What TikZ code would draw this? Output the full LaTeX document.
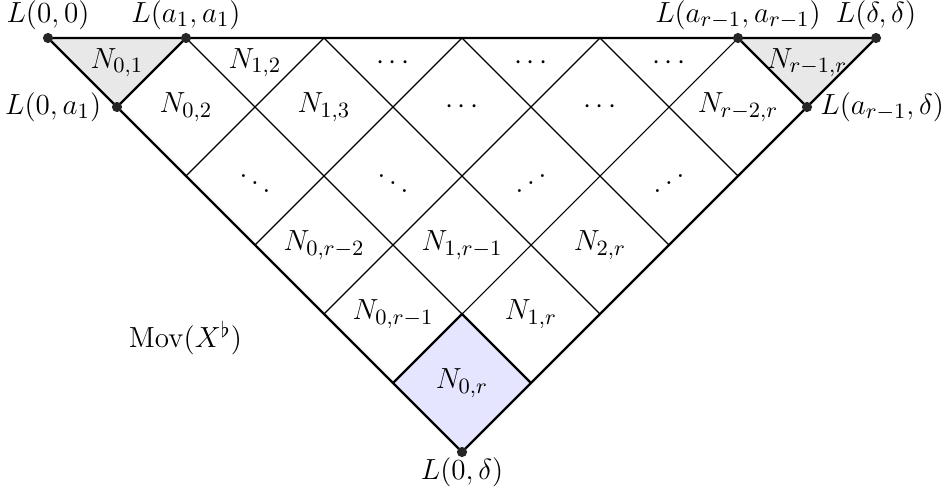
\documentclass[tikz,border=0pt]{standalone}
\usetikzlibrary{calc}
\newcommand{\myiddots}{\mathinner{\mkern1mu\raise1pt\hbox{.}\mkern2mu\raise4pt\hbox{.}\mkern2mu\raise7pt\vbox{\kern7pt\hbox{.}}\mkern1mu}}
\begin{document}
\begin{tikzpicture}[
  font=\fontsize{12.5}{15}\selectfont,
  thinline/.style={line width=0.45pt},
  boundary/.style={line width=0.9pt},
  dotnode/.style={circle,fill=black!85,inner sep=0pt,minimum size=4.2pt},
  lbl/.style={inner sep=1pt}
]
\useasboundingbox (-0.6957,0.5507) rectangle (13.0,-6.5217);
% fills
\fill[gray!18] (0,0) -- (2,0) -- (1,-1) -- cycle;
\fill[gray!18] (10,0) -- (12,0) -- (11,-1) -- cycle;
\fill[blue!10] (5,-5) -- (6,-4) -- (7,-5) -- (6,-6) -- cycle;
% grid lines
\foreach \k in {1,...,5}{
  \draw[thinline] (2*\k,0) -- ({6+\k},{\k-6});
  \draw[thinline] (2*\k,0) -- (\k,-\k);
}
% thick lines
\coordinate (T00) at (0,0);
\coordinate (Ta1) at (2,0);
\coordinate (Tar) at (10,0);
\coordinate (Tdd) at (12,0);
\coordinate (P0a) at (1,-1);
\coordinate (Pad) at (11,-1);
\coordinate (B0d) at (6,-6);
\coordinate (Btop) at (6,-4);
\coordinate (Bl) at (5,-5);
\coordinate (Br) at (7,-5);
\draw[boundary] (T00) -- (Tdd) -- (B0d) -- cycle;
\draw[boundary] (Ta1) -- (P0a);
\draw[boundary] (Tar) -- (Pad);
\draw[boundary] (Bl) -- (Btop) -- (Br);
% dots
\node[dotnode] (d1) at (T00) {};
\node[dotnode] (d2) at (Ta1) {};
\node[dotnode] (d3) at (Tar) {};
\node[dotnode] (d4) at (Tdd) {};
\node[dotnode] (d5) at (P0a) {};
\node[dotnode] (d6) at (Pad) {};
\node[dotnode] (d7) at (B0d) {};
% point labels
\node[above=0pt] (l1) at (T00) {$L(0,0)$};
\node[above=0pt] (l2) at (Ta1) {$L(a_1,a_1)$};
\node[above=0pt] (l3) at (Tar) {$L(a_{r-1},a_{r-1})$};
\node[above=0pt] (l4) at (Tdd) {$L(\delta,\delta)$};
\node[left=3pt] (l5) at (P0a) {$L(0,a_1)$};
\node[right=2pt] (l6) at (Pad) {$L(a_{r-1},\delta)$};
\node[below=0pt,inner sep=2pt] (l7) at (B0d) {$L(0,\delta)$};
% cell labels
\node[lbl] (n01) at (1,-0.36) {$N_{0,1}$};
\node[lbl] (n12) at (3,-0.36) {$N_{1,2}$};
\node[lbl] (c1) at (5,-0.36) {$\cdots$};
\node[lbl] (c2) at (7,-0.36) {$\cdots$};
\node[lbl] (c3) at (9,-0.36) {$\cdots$};
\node[lbl] (nr1) at (11,-0.36) {$N_{r-1,r}$};
\node[lbl] (n02) at (2,-1) {$N_{0,2}$};
\node[lbl] (n13) at (4,-1) {$N_{1,3}$};
\node[lbl] (c4) at (6,-1) {$\cdots$};
\node[lbl] (c5) at (8,-1) {$\cdots$};
\node[lbl] (nr2) at (10,-1) {$N_{r-2,r}$};
\node[lbl] (e1) at (3,-2) {$\ddots$};
\node[lbl] (e2) at (5,-2) {$\ddots$};
\node[lbl] (e3) at (7,-2) {$\myiddots$};
\node[lbl] (e4) at (9,-2) {$\myiddots$};
\node[lbl] (n0r2) at (4,-3) {$N_{0,r-2}$};
\node[lbl] (n1r1) at (6,-3) {$N_{1,r-1}$};
\node[lbl] (n2r) at (8,-3) {$N_{2,r}$};
\node[lbl] (n0r1) at (5,-4) {$N_{0,r-1}$};
\node[lbl] (n1r) at (7,-4) {$N_{1,r}$};
\node[lbl] (n0r) at (6,-5) {$N_{0,r}$};
\node[lbl] (mov) at (1.99,-4.35) {$\mathrm{Mov}(X^\flat)$};
\end{tikzpicture}
\end{document}
